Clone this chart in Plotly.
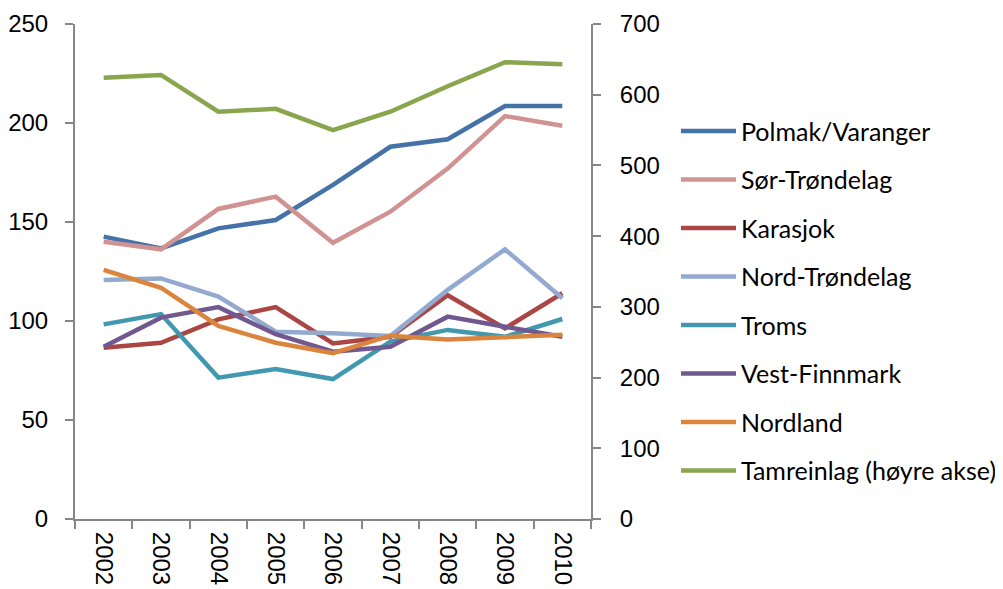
import plotly.graph_objects as go

years = ["2002", "2003", "2004", "2005", "2006", "2007", "2008", "2009", "2010"]

polmak = [142.6, 136.7, 146.8, 151.0, 168.7, 188.0, 191.8, 208.6, 208.6]
sor_trondelag = [140.0, 136.2, 156.6, 162.8, 139.5, 155.2, 177.0, 203.5, 198.6]
karasjok = [86.5, 89.0, 100.8, 107.0, 88.7, 92.0, 113.0, 96.3, 114.0]
nord_trondelag = [120.7, 121.5, 112.3, 94.6, 93.8, 92.4, 115.7, 136.2, 111.5]
troms = [98.3, 103.5, 71.4, 75.8, 70.7, 89.6, 95.5, 92.0, 101.0]
vest_finnmark = [87.0, 101.7, 107.0, 93.3, 84.5, 87.0, 102.2, 97.1, 92.0]
nordland = [125.8, 116.8, 97.5, 89.0, 83.7, 92.6, 90.7, 91.8, 93.0]
tamreinlag = [624, 628, 576, 580, 550, 576, 612, 646, 643]

series = [
    ("Polmak/Varanger", polmak, "#4572A7", "y"),
    ("Sør-Trøndelag", sor_trondelag, "#D19392", "y"),
    ("Karasjok", karasjok, "#AA4643", "y"),
    ("Nord-Trøndelag", nord_trondelag, "#93A9CF", "y"),
    ("Troms", troms, "#4198AF", "y"),
    ("Vest-Finnmark", vest_finnmark, "#71588F", "y"),
    ("Nordland", nordland, "#DB843D", "y"),
    ("Tamreinlag (høyre akse)", tamreinlag, "#89A54E", "y2"),
]

fig = go.Figure()
for name, vals, color, ax in series:
    fig.add_trace(go.Scatter(
        x=years, y=vals, name=name, mode="lines", yaxis=ax,
        line=dict(color=color, width=4.5), legendgroup=name,
    ))

axis_color = "#868686"
font_main = "Liberation Sans, Arial, sans-serif"
font_leg = "Lato, Open Sans, sans-serif"

fig.update_layout(
    width=1003, height=589,
    paper_bgcolor="white", plot_bgcolor="white",
    margin=dict(l=67, r=420, t=16, b=78, autoexpand=False),
    font=dict(family=font_main, size=24, color="black"),
    xaxis=dict(
        type="category", range=[-0.5, 8.5], tickson="boundaries", ticks="outside",
        ticklen=8, tickcolor=axis_color, tickwidth=2, showline=True,
        linecolor=axis_color, linewidth=2, showgrid=False, tickangle=90,
        zeroline=False, tickfont=dict(size=24, family=font_main),
        automargin=False, ticklabelstandoff=6,
    ),
    yaxis=dict(
        range=[0, 250], dtick=50, ticks="outside", ticklen=8, tickcolor=axis_color,
        tickwidth=2, showline=True, linecolor=axis_color, linewidth=2,
        showgrid=False, zeroline=False, tickfont=dict(size=24, family=font_main),
        automargin=False, ticklabelstandoff=12,
    ),
    yaxis2=dict(
        range=[0, 700], dtick=100, overlaying="y", side="right", ticks="outside",
        ticklen=8, tickcolor=axis_color, tickwidth=2, showline=True,
        linecolor=axis_color, linewidth=2, showgrid=False, zeroline=False,
        tickfont=dict(size=24, family=font_main),
        automargin=False, ticklabelstandoff=14,
    ),
    legend=dict(
        xref="container", yref="container", x=0.666, y=0.83,
        xanchor="left", yanchor="top", traceorder="grouped", tracegroupgap=13,
        itemwidth=55, maxheight=1000,
        font=dict(size=25, family=font_leg, color="black"),
        bgcolor="rgba(0,0,0,0)",
    ),
    showlegend=True,
)

fig.write_html("out.html")
